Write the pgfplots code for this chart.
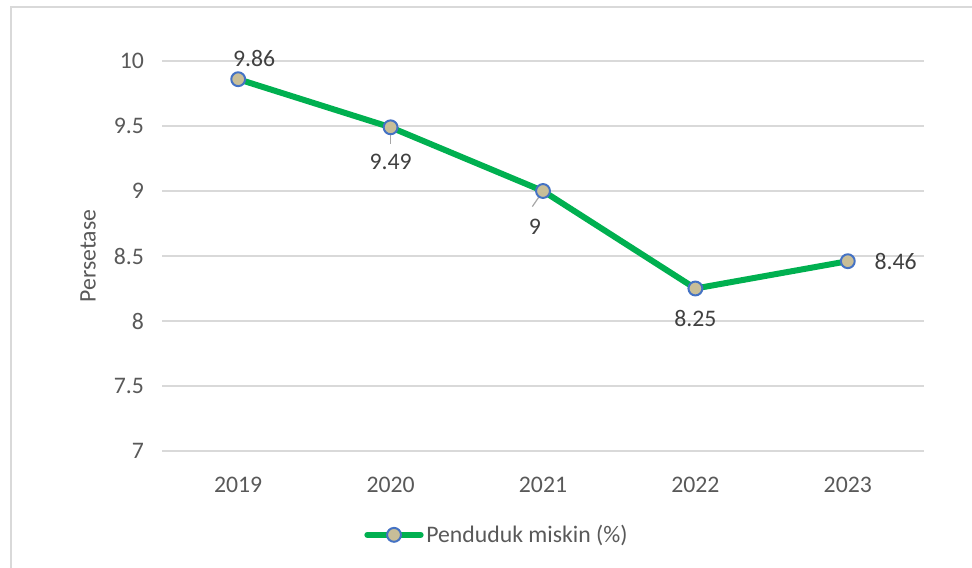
\documentclass[border=0pt]{standalone}
\usepackage{fontspec}
\setmainfont{Carlito}
\usepackage{pgfplots}
\pgfplotsset{compat=1.18}
\definecolor{lgreen}{HTML}{00B050}
\definecolor{mfill}{HTML}{C8BE98}
\definecolor{medge}{HTML}{4472C4}
\definecolor{gridc}{HTML}{D9D9D9}
\definecolor{tickc}{HTML}{595959}
\definecolor{labc}{HTML}{404040}
\begin{document}
\begin{tikzpicture}
\useasboundingbox (0,0) rectangle (729pt,426pt);
\draw[gridc, line width=1.5pt] (7.9pt,-10pt) -- (7.9pt,421.1pt) -- (740pt,421.1pt);
\begin{axis}[
  at={(121.5pt,87.75pt)}, anchor=south west,
  scale only axis, width=571.5pt, height=292.5pt,
  xmin=-0.5, xmax=4.5, ymin=7, ymax=10,
  axis line style={draw=none},
  xtick={0,1,2,3,4},
  xticklabels={2019,2020,2021,2022,2023},
  ytick={7,7.5,8,8.5,9,9.5,10},
  major tick length=0pt,
  ymajorgrids, grid style={gridc, line width=1.2pt},
  yticklabel style={font=\fontsize{17.8}{20}\selectfont, text=tickc, xshift=-10pt},
  xticklabel style={font=\fontsize{17.8}{20}\selectfont, text=tickc, yshift=-16pt},
  /pgf/number format/assume math mode=true,
  yticklabel={\pgfmathprintnumber[fixed]{\tick}},
  ylabel={Persetase},
  every axis y label/.style={at={(rel axis cs:0,0.5)}, xshift=-55.5pt, rotate=90, anchor=center,
    font=\fontsize{17.8}{20}\selectfont, text=tickc},
  clip=false,
  legend style={at={(0.44,-0.215)}, anchor=center, draw=none, fill=none,
    font=\fontsize{17.8}{20}\selectfont, text=tickc, legend cell align=left},
  legend image code/.code={
    \draw[lgreen, line width=4.5pt, line cap=round] (0pt,0pt) -- (40pt,0pt);
    \draw[medge, fill=mfill, line width=1.5pt] (20pt,0pt) circle (5.2pt);
  },
]
\draw[gray!70, line width=0.9pt] (axis cs:1,9.49) -- (axis cs:1,9.36);
\draw[gray!70, line width=0.9pt] (axis cs:2,9) -- (axis cs:1.93,8.88);
\addplot[lgreen, line width=4.5pt, line join=round, mark=*, mark size=5.2pt,
  mark options={draw=medge, fill=mfill, line width=1.5pt},
  nodes near coords, point meta=explicit symbolic,
  every node near coord/.append style={font=\fontsize{17.8}{20}\selectfont, text=labc},
  nodes near coords style={anchor=\anc, xshift=\xs, yshift=\ys},
  visualization depends on={value \thisrow{anc} \as \anc},
  visualization depends on={value \thisrow{xs} \as \xs},
  visualization depends on={value \thisrow{ys} \as \ys},
] table[x=x, y=y, meta=lab] {
x y lab anc xs ys
0 9.86 9.86 south 12pt 5pt
1 9.49 9.49 north 0pt -16pt
2 9.00 9 north -6pt -17pt
3 8.25 8.25 north 0pt -12pt
4 8.46 8.46 west 16pt 0pt
};
\addlegendentry{Penduduk miskin (\%)}
\end{axis}
\end{tikzpicture}
\end{document}
